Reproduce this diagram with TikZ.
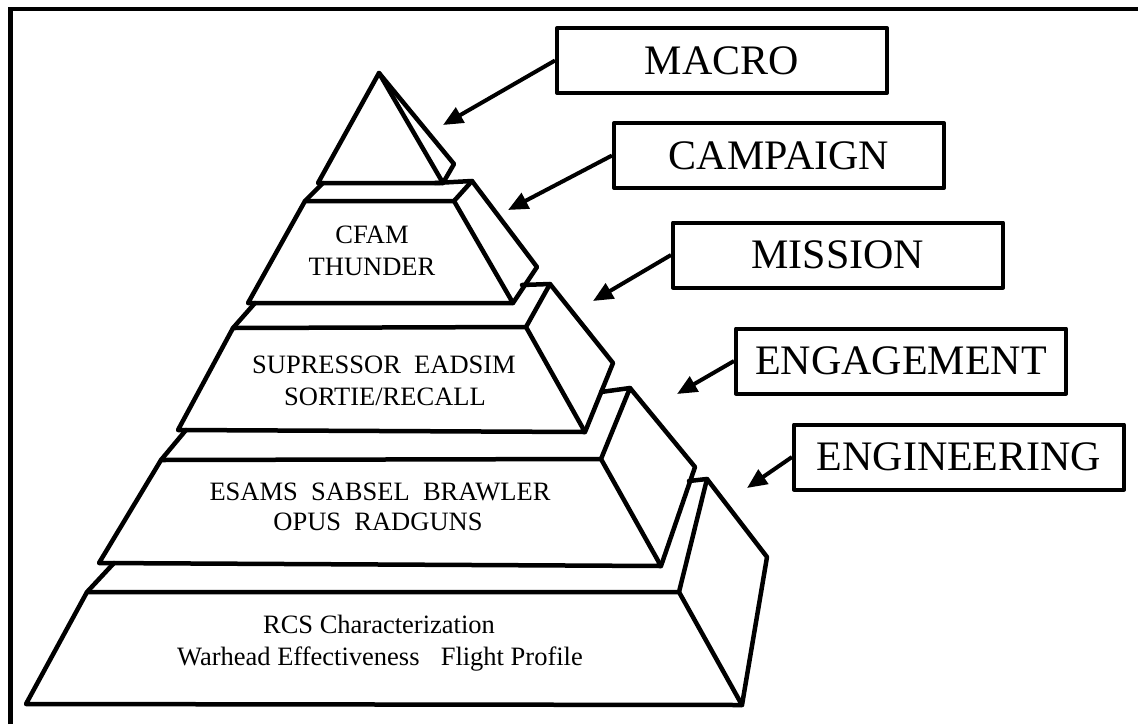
\documentclass[tikz,border=0pt]{standalone}
\usepackage{fontspec}
\setmainfont{Liberation Serif}
\usetikzlibrary{arrows.meta}
\tikzset{
  pyr/.style={line width=4.5pt, line join=round, line cap=round},
  lab/.style={draw, line width=4pt, line join=round, minimum width=330pt, minimum height=65pt, inner sep=0pt, font=\fontsize{42}{48}\selectfont},
  intext/.style={anchor=base, inner sep=0pt, font=\fontsize{26.5}{32}\selectfont},
  arr/.style={line width=4pt, -{Triangle[length=20pt,width=17pt]}},
  frameline/.style={line width=4.4pt}
}
\begin{document}
\begin{tikzpicture}[x=1pt,y=-1pt]
\useasboundingbox (0,0) rectangle (1138,724);
% frame (top and left only)
\coordinate (fbl) at (10.3,724);
\coordinate (ftl) at (10.3,8.8);
\coordinate (ftr) at (1138,8.8);
\draw[frameline] (fbl) -- (ftl) -- (ftr);

% ---- tier 1 (apex)
\coordinate (A) at (379,73);
\coordinate (t1l) at (318,183);
\coordinate (t1r) at (443,183);
\coordinate (t1s) at (454,164);
\draw[pyr] (A) -- (t1l) -- (t1r) -- cycle;
\draw[pyr] (A) -- (t1s) -- (t1r);

% ---- tier 2
\coordinate (l2a) at (305,201);
\coordinate (r2a) at (454,201);
\coordinate (l2b) at (248,303);
\coordinate (r2b) at (513,303);
\coordinate (b2a) at (472,181);
\coordinate (b2b) at (537,267);
\coordinate (k2) at (323,183);
\coordinate (k2r) at (435,183);
\draw[pyr] (l2a) -- (r2a) -- (r2b) -- (l2b) -- cycle;
\draw[pyr] (r2a) -- (b2a) -- (b2b) -- (r2b);
\draw[pyr] (k2r) -- (b2a);
\draw[pyr] (l2a) -- (k2);

% ---- tier 3
\coordinate (l3a) at (233,328);
\coordinate (r3a) at (526,327);
\coordinate (l3b) at (178,430);
\coordinate (r3b) at (585,432);
\coordinate (b3a) at (550,284);
\coordinate (b3b) at (613,363);
\coordinate (k3) at (255,303);
\coordinate (k3r) at (522,285);
\draw[pyr] (l3a) -- (r3a) -- (r3b) -- (l3b) -- cycle;
\draw[pyr] (r3a) -- (b3a) -- (b3b) -- (r3b);
\draw[pyr] (k3r) -- (b3a);
\draw[pyr] (l3a) -- (k3);

% ---- tier 4
\coordinate (l4a) at (161,460);
\coordinate (r4a) at (601,459);
\coordinate (l4b) at (99,563);
\coordinate (r4b) at (661,566);
\coordinate (b4a) at (630,388);
\coordinate (b4b) at (695,467);
\coordinate (k4) at (186,430);
\coordinate (k4r) at (601,392);
\draw[pyr] (l4a) -- (r4a) -- (r4b) -- (l4b) -- cycle;
\draw[pyr] (r4a) -- (b4a) -- (b4b) -- (r4b);
\draw[pyr] (k4r) -- (b4a);
\draw[pyr] (l4a) -- (k4);

% ---- tier 5
\coordinate (l5a) at (87,592);
\coordinate (r5a) at (679,592);
\coordinate (l5b) at (26,704);
\coordinate (r5b) at (742,705);
\coordinate (b5a) at (707,479);
\coordinate (b5b) at (767,557);
\coordinate (k5) at (114,563);
\coordinate (k5r) at (689,481);
\draw[pyr] (l5a) -- (r5a) -- (r5b) -- (l5b) -- cycle;
\draw[pyr] (r5a) -- (b5a) -- (b5b) -- (r5b);
\draw[pyr] (k5r) -- (b5a);
\draw[pyr] (l5a) -- (k5);

% ---- texts inside tiers
\node[intext] (t2x) at (372,243) {CFAM};
\node[intext] (t2y) at (372,275) {THUNDER};
\node[intext] (t3x) at (384,373) {SUPRESSOR\ \ EADSIM};
\node[intext] (t3y) at (385,405) {SORTIE/RECALL};
\node[intext] (t4x) at (380,500) {ESAMS\ \ SABSEL\ \ BRAWLER};
\node[intext] (t4y) at (378,530) {OPUS\ \ RADGUNS};
\node[intext] (t5x) at (379,633) {RCS Characterization};
\node[intext] (t5y) at (380,665) {Warhead Effectiveness\hspace{0.8em}Flight Profile};

% ---- label boxes
\node[lab] (macro) at (722,60.5) {MACRO};
\node[lab] (campaign) at (779,155.5) {CAMPAIGN};
\node[lab] (mission) at (838,255) {MISSION};
\node[lab] (engagement) at (901,361) {ENGAGEMENT};
\node[lab] (engineering) at (959,457) {ENGINEERING};

% ---- arrow tips
\coordinate (macroT) at (443,125);
\coordinate (campaignT) at (508,210);
\coordinate (missionT) at (593,301);
\coordinate (engagementT) at (677,394);
\coordinate (engineeringT) at (747,488);

\draw[arr] (macro.west) -- (macroT);
\draw[arr] (campaign.west) -- (campaignT);
\draw[arr] (mission.west) -- (missionT);
\draw[arr] (engagement.west) -- (engagementT);
\draw[arr] (engineering.west) -- (engineeringT);
\end{tikzpicture}
\end{document}
